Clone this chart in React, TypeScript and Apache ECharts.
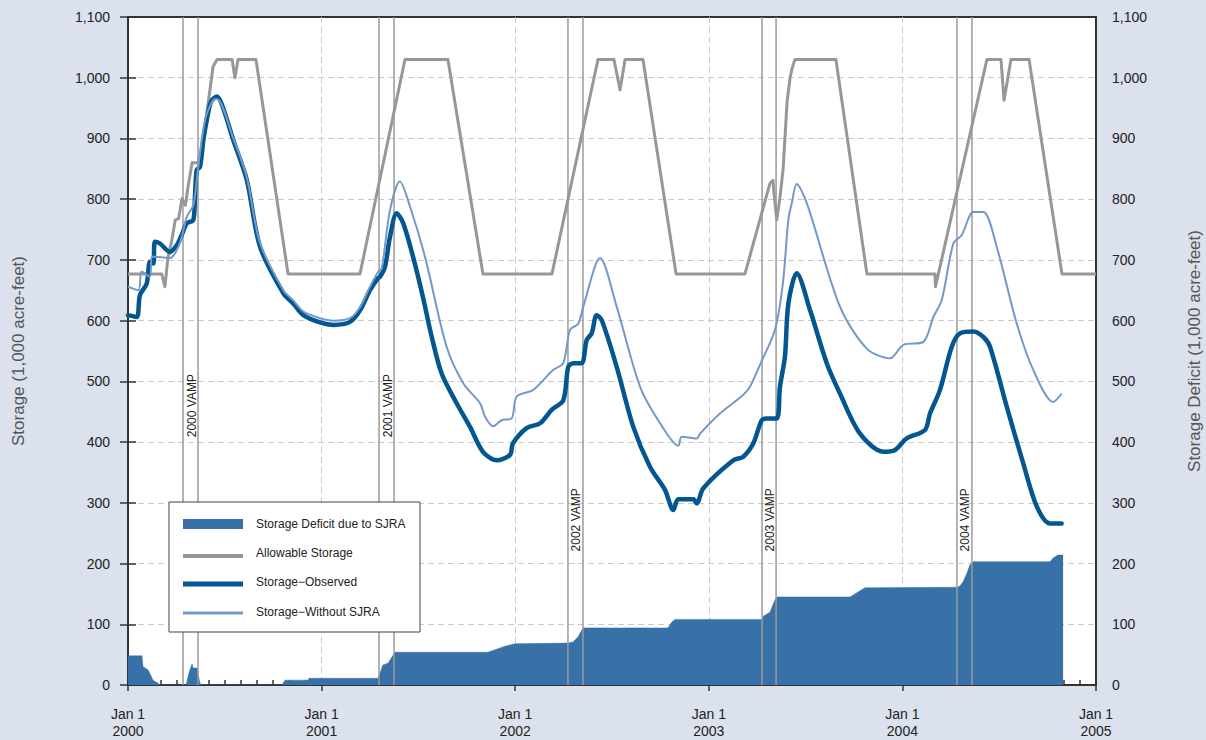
import React, { useEffect, useRef } from "react";
import * as echarts from "echarts";

// x values are months since Jan 1 2000
const yearTicks = ["2000", "2001", "2002", "2003", "2004", "2005"];

const allowable: [number, number][] = [
  [0, 677], [2.09, 677], [2.29, 656], [2.48, 705], [2.7, 730], [2.93, 766], [3.14, 768], [3.35, 801],
  [3.56, 790], [3.72, 820], [3.97, 860], [4.34, 860], [4.59, 886], [5.08, 980], [5.27, 1018], [5.52, 1030],
  [6.45, 1030], [6.63, 1000], [6.82, 1030], [7.93, 1030], [9.92, 677], [14.38, 677], [17.17, 1030],
  [19.83, 1030], [22.0, 677], [26.28, 677], [29.13, 1030], [30.12, 1030], [30.5, 980], [30.81, 1030],
  [31.92, 1030], [33.97, 677], [38.24, 677], [39.79, 826], [39.98, 831], [40.04, 810], [40.21, 766],
  [40.41, 803], [40.6, 848], [40.72, 900], [40.85, 960], [41.04, 1000], [41.16, 1015], [41.34, 1030],
  [43.88, 1030], [45.8, 677], [50.02, 677], [50.05, 656], [53.24, 1030], [54.11, 1030], [54.3, 963],
  [54.73, 1030], [55.85, 1030], [57.89, 677], [60, 677],
];

const observed: [number, number][] = [
  [0, 609], [0.54, 606], [0.74, 642], [1.16, 661], [1.36, 697], [1.57, 694], [1.67, 730], [1.98, 727],
  [2.6, 713], [3.02, 724], [3.33, 741], [3.64, 760], [4.05, 766], [4.15, 804], [4.26, 848], [4.46, 853],
  [4.67, 897], [4.88, 930], [5.14, 960], [5.5, 969], [5.83, 955], [6.53, 897], [7.36, 832], [8.18, 722],
  [9.63, 645], [10.25, 628], [10.87, 609], [11.9, 597], [12.73, 593], [13.76, 598], [14.38, 617],
  [15.0, 650], [15.5, 670], [15.62, 672], [15.93, 689], [16.24, 738], [16.65, 777], [17.05, 761],
  [17.67, 705], [18.28, 639], [18.82, 574], [19.44, 513], [20.37, 464], [21.2, 425], [22.0, 384],
  [22.85, 370], [23.68, 379], [23.86, 398], [24.71, 423], [25.54, 431], [26.26, 453], [26.98, 469],
  [27.29, 524], [27.6, 530], [28.12, 530], [28.43, 568], [28.74, 579], [29.05, 609], [29.36, 601],
  [30.29, 524], [31.32, 425], [32.36, 359], [33.29, 321], [33.8, 288], [34.11, 306], [35.04, 306],
  [35.25, 299], [35.66, 324], [37.52, 370], [38.14, 376], [38.76, 398], [39.28, 436], [39.59, 439],
  [40.21, 439], [40.41, 491], [40.72, 541], [40.93, 628], [41.45, 678], [42.28, 617], [43.31, 530],
  [44.13, 480], [45.37, 414], [46.82, 384], [47.54, 387], [48.27, 406], [49.4, 420], [49.71, 447],
  [50.33, 486], [51.06, 557], [51.57, 579], [52.4, 582], [53.02, 573], [53.43, 557], [54.47, 458],
  [55.49, 365], [56.33, 294], [57.15, 266], [57.87, 266],
];

const withoutSJRA: [number, number][] = [
  [0, 656], [0.64, 650], [0.85, 681], [1.36, 672], [1.47, 705], [1.67, 705], [2.6, 703], [3.22, 728],
  [3.64, 771], [4.05, 790], [4.34, 850], [4.77, 930], [5.27, 963], [5.5, 965], [6.53, 900], [7.36, 836],
  [8.18, 728], [9.63, 650], [10.25, 633], [10.87, 615], [11.9, 604], [12.73, 600], [13.76, 604],
  [14.38, 622], [15.0, 656], [15.5, 680], [15.73, 686], [16.24, 782], [16.85, 829], [17.48, 788],
  [18.41, 705], [19.75, 557], [20.78, 497], [21.82, 464], [22.13, 442], [22.64, 426], [23.16, 436],
  [23.78, 439], [24.09, 475], [25.12, 486], [26.36, 519], [26.98, 530], [27.4, 585], [27.91, 595],
  [28.22, 623], [29.26, 703], [30.29, 623], [31.74, 491], [32.98, 431], [34.11, 394], [34.32, 409],
  [35.25, 406], [35.46, 414], [36.69, 447], [38.14, 478], [38.55, 491], [39.17, 527], [40.1, 585],
  [40.59, 661], [40.93, 766], [41.14, 793], [41.45, 825], [42.08, 793], [44.13, 623], [45.79, 554],
  [47.23, 538], [48.06, 560], [49.3, 565], [49.92, 606], [50.44, 634], [51.16, 727], [51.68, 741],
  [52.4, 779], [53.02, 779], [53.84, 722], [55.09, 595], [56.11, 519], [57.35, 466], [57.87, 480],
];

const deficit: [number, number][] = [
  [0, 48], [0.87, 48], [0.93, 30], [1.24, 25], [1.55, 8], [1.86, 3], [1.98, 0], [3.6, 0], [3.78, 20],
  [3.97, 35], [4.03, 28], [4.28, 28], [4.46, 3], [4.59, 0], [9.55, 0], [9.73, 8], [11.16, 8], [11.22, 11],
  [15.5, 11], [15.8, 33], [16.12, 36], [16.36, 46], [16.55, 54], [22.31, 54], [22.75, 58], [23.37, 64],
  [23.99, 68], [27.27, 69], [27.58, 71], [27.89, 79], [28.2, 94], [33.47, 94], [33.72, 104], [33.91, 108],
  [39.3, 108], [39.36, 113], [39.79, 120], [40.1, 140], [40.23, 145], [44.75, 145], [45.06, 150],
  [45.37, 155], [45.68, 160], [51.38, 161], [51.57, 163], [51.76, 170], [52.0, 184], [52.19, 198],
  [52.38, 203], [57.15, 203], [57.34, 209], [57.65, 214], [57.96, 214],
];

const vampStart = [3.41, 15.56, 27.27, 39.3, 51.38];
const vampEnd = [4.34, 16.49, 28.2, 40.17, 52.31];
const vampLabelY = [460, 460, 272, 272, 272];
const vampLabels = ["2000 VAMP", "2001 VAMP", "2002 VAMP", "2003 VAMP", "2004 VAMP"];

const legendNames = [
  "Storage Deficit due to SJRA",
  "Allowable Storage",
  "Storage\u2212Observed",
  "Storage\u2212Without SJRA",
];

const C_DEF = "#3871a8";
const C_ALLOW = "#979797";
const C_OBS = "#03568f";
const C_WO = "#7399c9";
const FONT = "'Liberation Sans', Arial, sans-serif";

export default function App() {
  const ref = useRef<HTMLDivElement>(null);
  useEffect(() => {
    document.body.style.margin = "0";
    const chart = echarts.init(ref.current!, undefined, { renderer: "svg" });
    const dashed = {
      showMinLine: false,
      showMaxLine: false,
      lineStyle: { color: "#c9c9c9", type: [6, 4] as any, width: 1 },
    };
    const legendRowY = [524, 553, 582, 612];
    const swatchY = [524, 556, 584, 613];
    const swatchH = [10, 4, 5, 3];
    const swatchC = [C_DEF, C_ALLOW, C_OBS, C_WO];
    const legendGraphic: any[] = [
      { type: "rect", shape: { x: 169, y: 502, width: 251, height: 130 }, style: { fill: "#fff", stroke: "#444", lineWidth: 1 }, z: 100 },
    ];
    legendNames.forEach((n, i) => {
      legendGraphic.push({
        type: "rect",
        shape: { x: 183, y: swatchY[i] - swatchH[i] / 2, width: 60, height: swatchH[i] },
        style: { fill: swatchC[i] },
        z: 101,
      });
      legendGraphic.push({
        type: "text",
        x: 256,
        y: legendRowY[i],
        style: { text: n, fill: "#222", font: `12px ${FONT}`, verticalAlign: "middle", align: "left" },
        z: 101,
      });
    });

    chart.setOption({
      animation: false,
      backgroundColor: "#dce1ee",
      textStyle: { fontFamily: FONT },
      grid: {
        left: 128, right: 110, top: 17, bottom: 55, show: true, backgroundColor: "#fff",
        borderColor: "#333", borderWidth: 2, outerBoundsMode: "none", containLabel: false,
      },
      xAxis: [
        {
          type: "value", min: 0, max: 60, interval: 12, position: "bottom",
          axisLine: { show: true, onZero: false, lineStyle: { color: "#333", width: 2 } },
          axisTick: { show: true, inside: false, length: 6, lineStyle: { color: "#333", width: 1.5 } },
          axisLabel: {
            formatter: (v: number) => "Jan 1\n" + yearTicks[Math.round(v / 12)],
            fontSize: 14, lineHeight: 17, margin: 20, color: "#222", showMinLabel: true, showMaxLabel: true,
          },
          splitLine: { show: true, ...dashed },
        },
        {
          type: "value", min: 0, max: 60, interval: 1, position: "bottom",
          axisLine: { show: false, onZero: false },
          axisTick: { show: true, inside: true, length: 5, lineStyle: { color: "#333", width: 1.5 } },
          axisLabel: { show: false },
          splitLine: { show: false },
        },
      ],
      yAxis: [
        {
          type: "value", min: 0, max: 1100, interval: 100, position: "left",
          name: "Storage (1,000 acre-feet)", nameLocation: "middle", nameGap: 101, nameRotate: 90,
          nameTextStyle: { fontSize: 17, color: "#555" },
          axisLine: { show: true, lineStyle: { color: "#333", width: 2 } },
          axisTick: { show: true, length: 8, lineStyle: { color: "#333", width: 1.5 } },
          axisLabel: { formatter: (v: number) => v.toLocaleString("en-US"), fontSize: 14, color: "#222", margin: 18 },
          splitLine: { show: true, ...dashed },
        },
        {
          type: "value", min: 0, max: 1100, interval: 100, position: "right",
          name: "Storage Deficit (1,000 acre-feet)", nameLocation: "middle", nameGap: 90, nameRotate: 90,
          nameTextStyle: { fontSize: 17, color: "#555" },
          axisLine: { show: true, lineStyle: { color: "#333", width: 2 } },
          axisTick: { show: true, length: 8, lineStyle: { color: "#333", width: 1.5 } },
          axisLabel: { formatter: (v: number) => v.toLocaleString("en-US"), fontSize: 14, color: "#222", margin: 16 },
          splitLine: { show: false },
        },
      ],
      series: [
        {
          name: legendNames[0], type: "line", yAxisIndex: 1, data: deficit, showSymbol: false,
          lineStyle: { width: 0.5, color: C_DEF }, areaStyle: { color: C_DEF, opacity: 1 }, z: 1,
        },
        {
          name: "VAMP", type: "custom", xAxisIndex: 0, yAxisIndex: 0, z: 2, silent: true,
          encode: { x: [0, 1], y: 2 },
          data: vampStart.map((s, i) => [s, vampEnd[i], vampLabelY[i]]),
          renderItem: (params: any, api: any) => {
            const p1 = api.coord([api.value(0), 0]);
            const p2 = api.coord([api.value(1), 0]);
            const top = api.coord([0, 1100])[1];
            const ly = api.coord([0, api.value(2)])[1];
            return {
              type: "group",
              children: [
                { type: "line", shape: { x1: p1[0], y1: p1[1], x2: p1[0], y2: top }, style: { stroke: "#9a9a9a", lineWidth: 1.5 } },
                { type: "line", shape: { x1: p2[0], y1: p2[1], x2: p2[0], y2: top }, style: { stroke: "#9a9a9a", lineWidth: 1.5 } },
                {
                  type: "text", x: (p1[0] + p2[0]) / 2 + 1, y: ly, rotation: Math.PI / 2,
                  style: { text: vampLabels[params.dataIndex], fill: "#222", font: `12px ${FONT}`, align: "center", verticalAlign: "middle" },
                },
              ],
            };
          },
        },
        {
          name: legendNames[1], type: "line", data: allowable, showSymbol: false,
          lineStyle: { width: 3, color: C_ALLOW, join: "round" }, z: 3,
        },
        {
          name: legendNames[2], type: "line", data: observed, showSymbol: false, smooth: 0.3,
          lineStyle: { width: 4.5, color: C_OBS, join: "round", cap: "round" }, z: 4,
        },
        {
          name: legendNames[3], type: "line", data: withoutSJRA, showSymbol: false, smooth: 0.3,
          lineStyle: { width: 2, color: C_WO, join: "round" }, z: 5,
        },
      ],
      graphic: legendGraphic,
    });
    return () => chart.dispose();
  }, []);
  return <div ref={ref} style={{ position: "fixed", left: 0, top: 0, width: 1206, height: 740 }} />;
}
